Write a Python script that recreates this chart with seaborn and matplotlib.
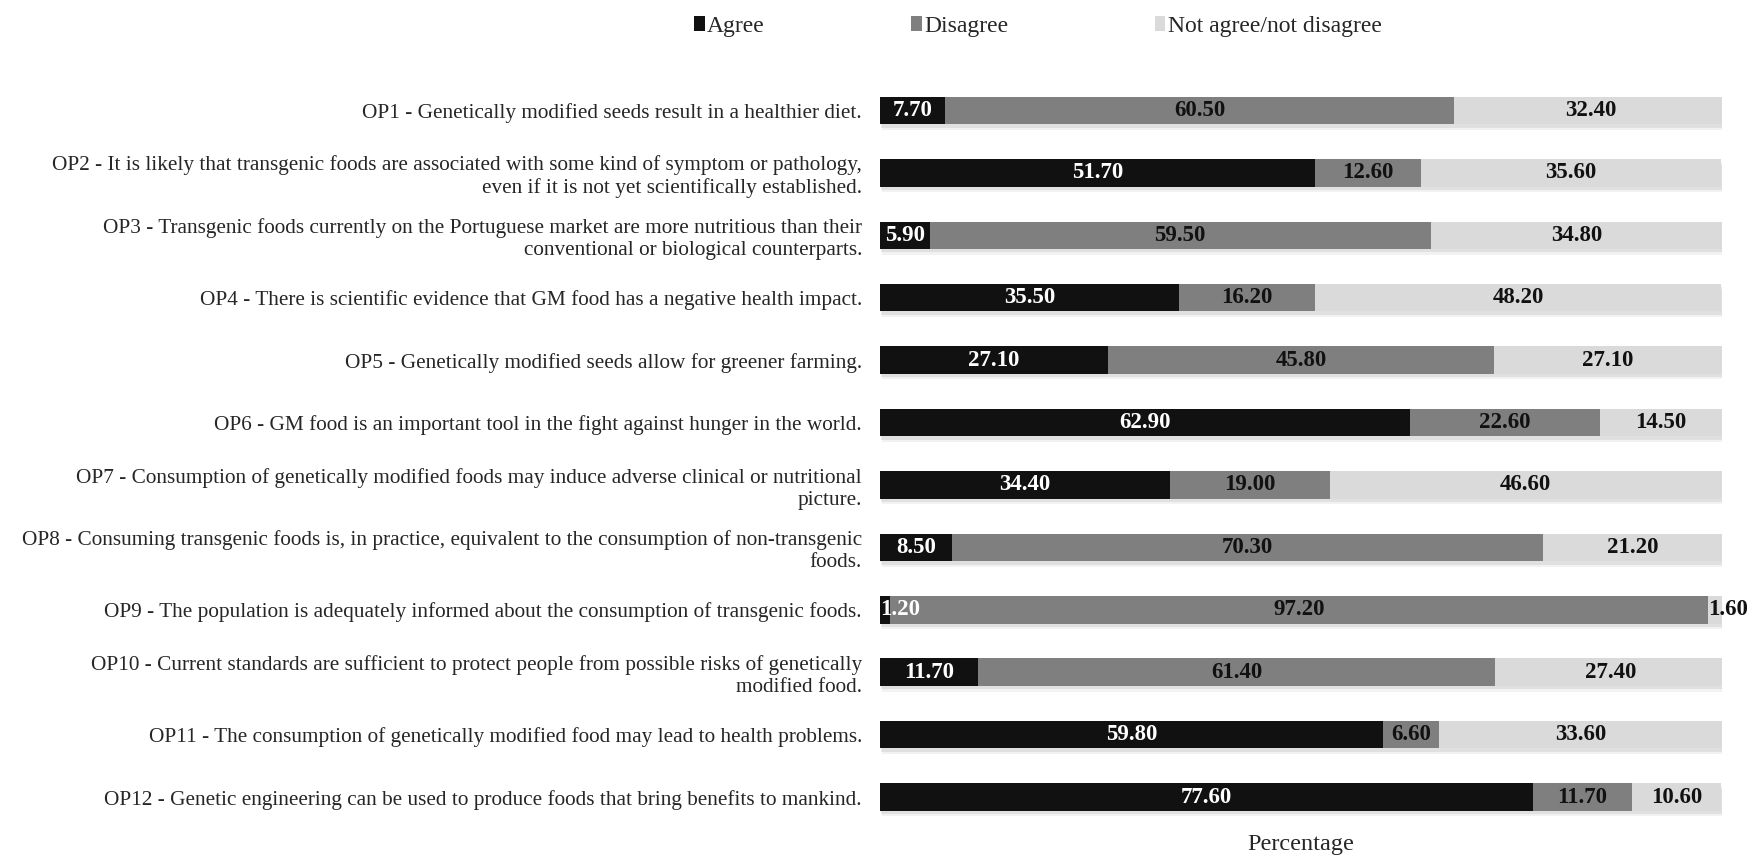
import matplotlib
matplotlib.use("Agg")
import matplotlib.pyplot as plt
import seaborn as sns
import pandas as pd
import numpy as np
from matplotlib import patheffects as pe
from matplotlib.patches import Patch

# ---- data ----
statements = [
    "OP1 - Genetically modified seeds result in a healthier diet.",
    "OP2 - It is likely that transgenic foods are associated with some kind of symptom or pathology,\neven if it is not yet scientifically established.",
    "OP3 - Transgenic foods currently on the Portuguese market are more nutritious than their\nconventional or biological counterparts.",
    "OP4 - There is scientific evidence that GM food has a negative health impact.",
    "OP5 - Genetically modified seeds allow for greener farming.",
    "OP6 - GM food is an important tool in the fight against hunger in the world.",
    "OP7 - Consumption of genetically modified foods may induce adverse clinical or nutritional\npicture.",
    "OP8 - Consuming transgenic foods is, in practice, equivalent to the consumption of non-transgenic\nfoods.",
    "OP9 - The population is adequately informed about the consumption of transgenic foods.",
    "OP10 - Current standards are sufficient to protect people from possible risks of genetically\nmodified food.",
    "OP11 - The consumption of genetically modified food may lead to health problems.",
    "OP12 - Genetic engineering can be used to produce foods that bring benefits to mankind.",
]
agree = [7.70, 51.70, 5.90, 35.50, 27.10, 62.90, 34.40, 8.50, 1.20, 11.70, 59.80, 77.60]
disagree = [60.50, 12.60, 59.50, 16.20, 45.80, 22.60, 19.00, 70.30, 97.20, 61.40, 6.60, 11.70]
neutral = [32.40, 35.60, 34.80, 48.20, 27.10, 14.50, 46.60, 21.20, 1.60, 27.40, 33.60, 10.60]
series_names = ["Agree", "Disagree", "Not agree/not disagree"]
colors = ["#111111", "#7f7f7f", "#dadada"]
text_colors = ["white", "#111111", "#111111"]

df = pd.DataFrame({"statement": statements, "Agree": agree,
                   "Disagree": disagree, "Neutral": neutral})
df["c1"] = df["Agree"]
df["c2"] = df["c1"] + df["Disagree"]
df["c3"] = df["c2"] + df["Neutral"]

sns.set_theme(style="white")
plt.rcParams['font.family'] = ['Liberation Serif', 'DejaVu Serif']

fig = plt.figure(figsize=(17.56, 8.61), dpi=100)
ax = fig.add_axes([0.5011, 0.038, 0.4795, 0.870])

layers = [("c3", colors[2]), ("c2", colors[1]), ("c1", colors[0])]
for i, (col, colr) in enumerate(layers):
    n_before = len(ax.patches)
    sns.barplot(data=df, x=col, y="statement", color=colr, orient="h",
                width=0.44, saturation=1, errorbar=None, linewidth=0,
                edgecolor="none", ax=ax)
    if i == 0:
        for p in ax.patches[n_before:]:
            p.set_path_effects([
                pe.SimplePatchShadow(offset=(1.5, -4), shadow_rgbFace="0.6", alpha=0.12),
                pe.SimplePatchShadow(offset=(1, -2.5), shadow_rgbFace="0.6", alpha=0.2),
                pe.Normal()])

# value labels
starts = [np.zeros(len(df)), df["c1"].values, df["c2"].values]
vals = [df["Agree"].values, df["Disagree"].values, df["Neutral"].values]
for k in range(3):
    for i in range(len(df)):
        v = vals[k][i]
        s = starts[k][i]
        if v < 3:
            ax.text(s, i, f"{v:.2f}", ha="left", va="center", color=text_colors[k],
                    fontsize=16.5, fontweight="bold", clip_on=False)
        else:
            ax.text(s + v / 2, i, f"{v:.2f}", ha="center", va="center", color=text_colors[k],
                    fontsize=16.5, fontweight="bold")

ax.set_xlim(0, 100)
ax.set_ylim(11.5, -0.5)
ax.set_xticks([])
ax.set_ylabel("")
ax.set_xlabel("Percentage", fontsize=17.5, labelpad=4)
ax.tick_params(axis="y", length=0, pad=13, labelsize=15.3)
for t in ax.get_yticklabels():
    t.set_multialignment("right")
sns.despine(ax=ax, left=True, bottom=True)

handles = [Patch(facecolor=c, edgecolor="none", label=n) for c, n in zip(colors, series_names)]
fig.legend(handles=handles, loc="center", bbox_to_anchor=(0.591, 0.969), ncol=3,
           frameon=False, handlelength=0.45, handleheight=0.6, handletextpad=0.1,
           columnspacing=6.2, fontsize=17)

fig.savefig("out.png", dpi=100)
